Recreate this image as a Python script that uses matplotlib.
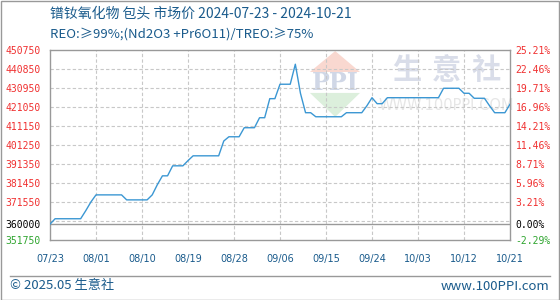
import numpy as np
import pandas as pd
import matplotlib
matplotlib.use("Agg")
import matplotlib.pyplot as plt
from matplotlib.patches import Polygon, Rectangle
from matplotlib.lines import Line2D

plt.rcParams['font.family'] = ['Noto Sans CJK SC', 'DejaVu Sans']

# daily price, 2024-07-23 .. 2024-10-21
dates = pd.date_range("2024-07-23", "2024-10-21", freq="D")
price = [360000, 362800, 362800, 362800, 362800, 362800, 362800, 367000, 371500, 375200,
         375200, 375200, 375200, 375200, 375200, 372600, 372600, 372600, 372600, 372600,
         375200, 380500, 385100, 385100, 390300, 390300, 390300, 393000, 395500, 395500,
         395500, 395500, 395500, 395500, 403200, 405400, 405400, 405400, 410100, 410100,
         410100, 415300, 415300, 425200, 425200, 432700, 432700, 432700, 443100, 428000,
         417900, 417900, 415800, 415800, 415800, 415800, 415800, 415800, 417900, 417900,
         417900, 417900, 421500, 425700, 422600, 422600, 425700, 425700, 425700, 425700,
         425700, 425700, 425700, 425700, 425700, 425700, 425700, 430600, 430600, 430600,
         430600, 428000, 428000, 425400, 425400, 425400, 421500, 417900, 417900, 417900,
         422300]

base = 360000
y_min, y_max = 351750, 450750
y_ticks = [351750, 360000, 371550, 381450, 391350, 401250, 411150, 421050, 430950, 440850, 450750]
grid_y = [361650, 371550, 381450, 391350, 401250, 411150, 421050, 430950, 440850]
x_tick_days = [0, 9, 18, 27, 36, 45, 54, 63, 72, 81, 90]

blue = "#1a5b8c"
red = "#f03030"
green = "#2fa52f"

fig = plt.figure(figsize=(5.6, 3.0), dpi=100)
ax = fig.add_axes([50/560, 1-240/300, 460/560, 190.5/300])

# watermark
wm = ax.transAxes
ax.add_patch(Polygon([[0.620, 0.992], [0.565, 0.882], [0.674, 0.882]], closed=True,
                     transform=wm, facecolor="#f9d8d0", edgecolor="none", zorder=0))
ax.add_patch(Polygon([[0.565, 0.772], [0.674, 0.772], [0.620, 0.646]], closed=True,
                     transform=wm, facecolor="#dcefdc", edgecolor="none", zorder=0))
ax.text(0.620, 0.826, "PPI", transform=wm, ha="center", va="center", fontsize=17,
        family="DejaVu Serif", fontweight="bold", color="#d0d7e6", zorder=0)
for i, ch in enumerate("生意社"):
    ax.text(0.775 + i*0.087, 0.893, ch, transform=wm, ha="center", va="center",
            fontsize=21, fontweight="bold", color="#d9dde9", zorder=0)
ax.text(0.861, 0.707, "WWW.100PPI.COM", transform=wm, ha="center", va="center",
        fontsize=10.5, color="#e6e6e6", family="DejaVu Sans", zorder=0)

# grid
for g in grid_y:
    ax.axhline(g, color="#c8c8c8", lw=0.8, ls=(0, (3, 2)), zorder=1)
for d in x_tick_days[1:-1]:
    ax.axvline(dates[d], color="#c8c8c8", lw=0.8, ls=(0, (3, 2)), zorder=1)
ax.axhline(base, color="#999999", lw=1.0, zorder=2)

ax.plot(dates, price, color="#3b97d3", lw=1.0, zorder=3)

ax.set_xlim(dates[0], dates[-1])
ax.set_ylim(y_min, y_max)
for s in ax.spines.values():
    s.set_color("#999999")
    s.set_linewidth(1.0)

ax.set_yticks(y_ticks)
ax.set_yticklabels([str(v) for v in y_ticks], family="DejaVu Sans Mono", fontsize=7)
ax.tick_params(axis="y", length=0, pad=7)
for lab, v in zip(ax.get_yticklabels(), y_ticks):
    lab.set_color(green if v < base else ("black" if v == base else red))

ax.set_xticks([dates[d] for d in x_tick_days])
ax.set_xticklabels([dates[d].strftime("%m/%d") for d in x_tick_days],
                   family="DejaVu Sans", fontsize=7, color=blue)
ax.tick_params(axis="x", length=0, pad=10)

ax2 = ax.twinx()
ax2.set_ylim(y_min, y_max)
ax2.set_yticks(y_ticks)
ax2.set_yticklabels(["%.2f%%" % ((v/base - 1)*100) for v in y_ticks],
                    family="DejaVu Sans Mono", fontsize=7)
ax2.tick_params(axis="y", length=0, pad=4)
for lab, v in zip(ax2.get_yticklabels(), y_ticks):
    lab.set_color(green if v < base else ("black" if v == base else red))
for s in ax2.spines.values():
    s.set_visible(False)

# titles
fig.text(50/560, 1-14/300, "镨钕氧化物 包头 市场价 2024-07-23 - 2024-10-21",
         ha="left", va="center", fontsize=10, color=blue)
fig.text(50/560, 1-34/300, "REO:≥99%;(Nd2O3 +Pr6O11)/TREO:≥75%",
         ha="left", va="center", fontsize=9.5, color=blue)

# footer
fig.add_artist(Line2D([10/560, 550/560], [1-276/300, 1-276/300],
                      transform=fig.transFigure, color="#999999", lw=1))
fig.text(10/560, 1-286/300, "© 2025.05 生意社", ha="left", va="center",
         fontsize=9.5, color=blue)
fig.text(549/560, 1-286/300, "www.100PPI.com", ha="right", va="center",
         fontsize=9.5, color=blue)

fig.add_artist(Rectangle((0.5/560, 0.5/300), 558.5/560, 298.5/300, transform=fig.transFigure,
                         fill=False, edgecolor="#999999", lw=1))

fig.savefig("out.png", dpi=100)
